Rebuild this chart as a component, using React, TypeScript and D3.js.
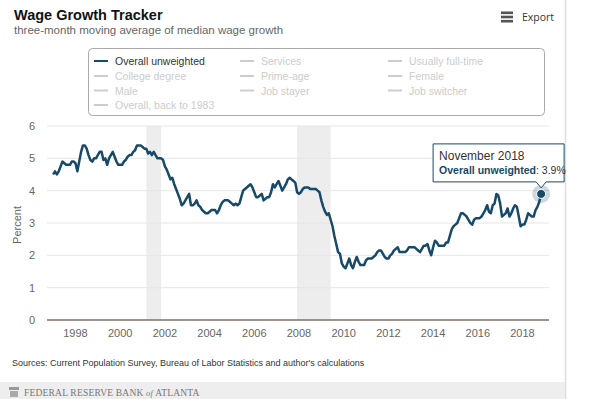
import React from "react";
import * as d3 from "d3";

// ---- data (monthly, Jan 1997 – Nov 2018) ----
const startYear = 1997;
const wage1997 = [4.5, 4.6, 4.5, 4.6, 4.75, 4.9, 4.85, 4.8, 4.8, 4.8, 4.9, 4.9];
const wage1998 = [4.85, 4.6, 4.9, 5.2, 5.4, 5.4, 5.3, 5.1, 4.95, 4.9, 5.0, 5.0];
const wage1999 = [5.1, 5.2, 5.2, 4.95, 5.0, 4.8, 5.0, 5.1, 5.2, 5.05, 4.9, 4.8];
const wage2000 = [4.8, 4.8, 4.9, 4.95, 5.05, 5.1, 5.1, 5.2, 5.25, 5.4, 5.4, 5.4];
const wage2001 = [5.35, 5.3, 5.3, 5.15, 5.2, 5.1, 5.2, 5.1, 5.0, 5.0, 5.0, 4.95];
const wage2002 = [4.75, 4.65, 4.5, 4.35, 4.4, 4.2, 4.05, 3.9, 3.75, 3.55, 3.6, 3.7];
const wage2003 = [3.8, 3.9, 3.55, 3.55, 3.6, 3.7, 3.55, 3.5, 3.4, 3.35, 3.3, 3.3];
const wage2004 = [3.35, 3.4, 3.4, 3.4, 3.3, 3.4, 3.55, 3.65, 3.7, 3.7, 3.7, 3.65];
const wage2005 = [3.6, 3.55, 3.6, 3.55, 3.6, 3.8, 4.0, 4.05, 4.1, 4.15, 4.2, 4.1];
const wage2006 = [3.95, 3.8, 3.8, 3.85, 3.9, 3.7, 3.75, 3.8, 3.8, 3.95, 4.2, 4.1];
const wage2007 = [4.2, 4.3, 4.15, 4.0, 4.1, 4.2, 4.35, 4.4, 4.35, 4.3, 4.25, 3.95];
const wage2008 = [3.9, 3.95, 4.05, 4.1, 4.1, 4.1, 4.05, 4.05, 4.05, 4.05, 4.0, 3.95];
const wage2009 = [3.7, 3.5, 3.35, 3.25, 3.3, 3.1, 2.9, 2.6, 2.35, 2.1, 2.05, 1.75];
const wage2010 = [1.65, 1.6, 1.75, 1.9, 1.7, 1.6, 1.8, 1.95, 1.8, 1.7, 1.7, 1.7];
const wage2011 = [1.85, 1.9, 1.9, 1.9, 1.95, 2.0, 2.1, 2.15, 2.15, 2.05, 1.95, 1.9];
const wage2012 = [1.9, 2.0, 2.05, 2.15, 2.2, 2.25, 2.1, 2.1, 2.1, 2.1, 2.15, 2.25];
const wage2013 = [2.25, 2.25, 2.25, 2.2, 2.15, 2.1, 2.2, 2.3, 2.3, 2.35, 2.15, 2.0];
const wage2014 = [2.25, 2.45, 2.4, 2.3, 2.3, 2.3, 2.3, 2.4, 2.4, 2.6, 2.8, 2.9];
const wage2015 = [2.95, 3.0, 3.15, 3.3, 3.3, 3.25, 3.2, 3.1, 3.0, 2.95, 3.1, 3.15];
const wage2016 = [3.15, 3.15, 3.2, 3.3, 3.4, 3.55, 3.35, 3.3, 3.55, 3.6, 3.9, 3.85];
const wage2017 = [3.6, 3.2, 3.25, 3.3, 3.45, 3.2, 3.3, 3.45, 3.55, 3.5, 3.2, 2.9];
const wage2018 = [2.95, 2.95, 3.1, 3.3, 3.25, 3.2, 3.2, 3.4, 3.5, 3.65, 3.9];

const overallUnweighted = [
  ...wage1997, ...wage1998, ...wage1999, ...wage2000, ...wage2001, ...wage2002,
  ...wage2003, ...wage2004, ...wage2005, ...wage2006, ...wage2007, ...wage2008,
  ...wage2009, ...wage2010, ...wage2011, ...wage2012, ...wage2013, ...wage2014,
  ...wage2015, ...wage2016, ...wage2017, ...wage2018,
];

// recessions [start, end] as fractional years
const recessionStarts = [2001 + 2 / 12, 2007 + 11 / 12];
const recessionEnds = [2001 + 10 / 12, 2009 + 5 / 12];

const xTicks = [1998, 2000, 2002, 2004, 2006, 2008, 2010, 2012, 2014, 2016, 2018];
const yTicks = [0, 1, 2, 3, 4, 5, 6];

const legendRows = [
  ["Overall unweighted", "Services", "Usually full-time"],
  ["College degree", "Prime-age", "Female"],
  ["Male", "Job stayer", "Job switcher"],
  ["Overall, back to 1983"],
];

const monthNames = ["January", "February", "March", "April", "May", "June", "July",
  "August", "September", "October", "November", "December"];

const LINE = "#174a68";
const FONT = "'Liberation Sans', Arial, sans-serif";

export default function App() {
  const W = 602, H = 399;
  const left = 47, right = 549, top = 126, bottom = 320;
  const x = d3.scaleLinear().domain([1996.725, 2019.186]).range([left, right]);
  const y = d3.scaleLinear().domain([0, 6]).range([bottom, top]);

  const pts = overallUnweighted.map((v, i) => ({ t: startYear + i / 12, v }));
  const line = d3.line<{ t: number; v: number }>().x(d => x(d.t)).y(d => y(d.v));
  const last = pts[pts.length - 1];
  const lastIdx = pts.length - 1;
  const lastMonth = monthNames[lastIdx % 12];
  const lastYear = startYear + Math.floor(lastIdx / 12);
  const lx = x(last.t), ly = y(last.v);

  const legendColX = [94, 240, 388];
  const legendRowY = [61, 76, 90.5, 105];

  // tooltip box
  const tbW = 131, tbH = 38;
  const tbX = lx - 108, tbY = ly - 50;

  return (
    <svg width={W} height={H} style={{ position: "absolute", left: 0, top: 0, background: "#fff" }}
      fontFamily={FONT}>
      {/* title */}
      <text x={14} y={20} fontSize={14.5} fontWeight="bold" fill="#111">Wage Growth Tracker</text>
      <text x={14} y={34} fontSize={11.5} fill="#666">three-month moving average of median wage growth</text>

      {/* export */}
      <g fill="#555">
        <rect x={501} y={11.5} width={12} height={2.6} />
        <rect x={501} y={15.7} width={12} height={2.6} />
        <rect x={501} y={19.9} width={12} height={2.6} />
      </g>
      <text x={522} y={21} fontSize={10.5} fill="#333" fontFamily="'Open Sans', sans-serif">Export</text>

      {/* right border of container */}
      <line x1={565.5} x2={565.5} y1={0} y2={H} stroke="#ddd" strokeWidth={1.5} />

      {/* legend */}
      <rect x={88.5} y={48.5} width={456} height={67} rx={4} fill="#fff" stroke="#aaa" />
      {legendRows.map((row, r) =>
        row.map((name, c) => {
          const active = r === 0 && c === 0;
          const lxx = legendColX[c];
          const ry = legendRowY[r];
          return (
            <g key={name}>
              <line x1={lxx} x2={lxx + 14} y1={ry} y2={ry} stroke={active ? LINE : "#ccc"} strokeWidth={2} />
              <text x={lxx + 21} y={ry + 4} fontSize={10.5} fill={active ? "#333" : "#ccc"}>{name}</text>
            </g>
          );
        })
      )}

      {/* recession bands */}
      {recessionStarts.map((s, i) => (
        <rect key={i} x={x(s)} y={top} width={x(recessionEnds[i]) - x(s)} height={bottom - top} fill="#ededed" />
      ))}

      {/* grid */}
      {yTicks.filter(t => t > 0).map(t => (
        <line key={t} x1={left} x2={right} y1={y(t)} y2={y(t)} stroke="#e6e6e6" />
      ))}
      <line x1={left} x2={right} y1={bottom} y2={bottom} stroke="#7a7268" strokeWidth={1.5} />

      {/* y labels */}
      {yTicks.map(t => (
        <text key={t} x={35} y={y(t) + 4} fontSize={11} fill="#666" textAnchor="end">{t}</text>
      ))}
      <text transform={`translate(21, ${(top + bottom) / 2 + 2}) rotate(-90)`} fontSize={11} fill="#666"
        textAnchor="middle">Percent</text>

      {/* x labels */}
      {xTicks.map(t => (
        <text key={t} x={x(t)} y={337} fontSize={11} fill="#666" textAnchor="middle">{t}</text>
      ))}

      {/* series */}
      <path d={line(pts) || ""} fill="none" stroke={LINE} strokeWidth={2.5} strokeLinejoin="round" />
      <circle cx={lx} cy={ly} r={9} fill={LINE} opacity={0.22} />
      <circle cx={lx} cy={ly} r={4.5} fill={LINE} stroke="#fff" strokeWidth={1} />

      {/* tooltip */}
      <g>
        <path
          d={`M${tbX},${tbY} h${tbW} v${tbH} H${lx + 5} l-5,6 l-5,-6 H${tbX} Z`}
          fill="rgba(255,255,255,0.92)" stroke={LINE} strokeWidth={1} />
        <text x={tbX + 6} y={tbY + 16} fontSize={12} fill="#333">{lastMonth} {lastYear}</text>
        <text x={tbX + 6} y={tbY + 30} fontSize={10.5} fill={LINE}>
          <tspan fontWeight="bold">Overall unweighted</tspan>
          <tspan fill="#333">: {last.v.toFixed(1)}%</tspan>
        </text>
      </g>

      {/* sources */}
      <text x={12} y={366} fontSize={9} fill="#333">Sources: Current Population Survey, Bureau of Labor Statistics and author's calculations</text>

      {/* footer */}
      <rect x={0} y={382} width={565} height={17} fill="#eeeeee" />
      <g fill="#999">
        <rect x={9} y={387} width={10} height={3} />
        <rect x={10} y={391} width={8} height={6} fill="#aaa" />
      </g>
      <text x={24} y={396} fontSize={9.5} fill="#777" fontFamily="'Liberation Serif', 'DejaVu Serif', serif"
        letterSpacing={0.2}>FEDERAL RESERVE BANK <tspan fontStyle="italic" fontSize={8.5}>of</tspan> ATLANTA</text>
    </svg>
  );
}
